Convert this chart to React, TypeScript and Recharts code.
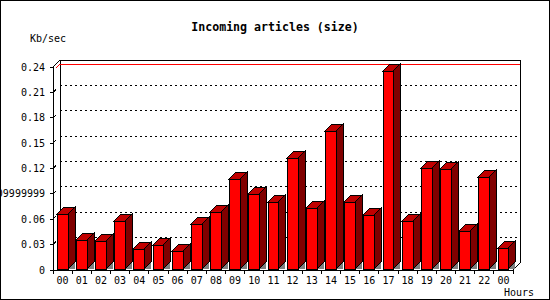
import React from "react";
import { BarChart, Bar, XAxis, YAxis, ReferenceLine, ReferenceArea } from "recharts";

const hours = ["00","01","02","03","04","05","06","07","08","09","10","11","12","13","14","15","16","17","18","19","20","21","22","00"];
const kbPerSec = [0.066, 0.035, 0.034, 0.058, 0.0245, 0.030, 0.022, 0.054, 0.069, 0.108, 0.090, 0.080, 0.132, 0.073, 0.164, 0.080, 0.065, 0.235, 0.058, 0.121, 0.119, 0.046, 0.110, 0.026];
const yTicks = [0, 0.03, 0.06, 0.09, 0.12, 0.15, 0.18, 0.21, 0.24];
const yTickLabels = ["0", "0.03", "0.06", "0.09999999", "0.12", "0.15", "0.18", "0.21", "0.24"];
const gridTicks = [0.03, 0.06, 0.09, 0.12, 0.15, 0.18, 0.21];
const title = "Incoming articles (size)";
const yUnit = "Kb/sec";
const xUnit = "Hours";

const data = hours.map((h, i) => ({ idx: i, hour: h, value: kbPerSec[i] }));
const maxValue = Math.max(...kbPerSec);

const D = 7;
const FONT = '"DejaVu Sans Mono", "Liberation Mono", monospace';

function Bar3D(props: any) {
  const { x, y, width, height } = props;
  const fx = Math.round(x + width * 0.2);
  const fr = Math.round(x + width * 0.2 + width * 0.57);
  const top = Math.round(y);
  const bot = Math.round(y + height) - 1;
  return (
    <g>
      <polygon points={`${fr},${bot} ${fr + D},${bot - D} ${fr + D},${bot}`} fill="#808080" stroke="none" />
      <polygon points={`${fr},${top} ${fr + D},${top - D} ${fr + D},${bot - D} ${fr},${bot}`} fill="#800000" stroke="#000" strokeWidth={1} />
      <polygon points={`${fx},${top} ${fx + D},${top - D} ${fr + D},${top - D} ${fr},${top}`} fill="#c00000" stroke="#000" strokeWidth={1} />
      <rect x={fx} y={top} width={fr - fx} height={bot - top} fill="#ff0000" stroke="#000" strokeWidth={1} />
    </g>
  );
}

function Frame(props: any) {
  const { x, y, width, height } = props;
  const r = x + width;
  const b = y + height;
  return (
    <g fill="none" stroke="#000" strokeWidth={1}>
      <line x1={x + D} y1={y - D} x2={r + D} y2={y - D} />
      <line x1={x + D} y1={y - D} x2={x + D} y2={b - D} />
      <line x1={r + D} y1={y - D} x2={r + D} y2={b - D} />
      <line x1={x} y1={y} x2={x + D} y2={y - D} />
      <line x1={r} y1={b} x2={r + D} y2={b - D} />
    </g>
  );
}

function GridLine(props: any) {
  const { x1, y1, x2, y2 } = props;
  return (
    <g fill="none" stroke="#000" strokeWidth={1}>
      <line x1={x1 + D} y1={y1 - D} x2={x2 + D} y2={y2 - D} strokeDasharray="2 3" />
      <line x1={x1} y1={y1} x2={x1 + 3} y2={y1 - 3} />
    </g>
  );
}

function MaxLine(props: any) {
  const { x1, y1, x2, y2 } = props;
  return (
    <g fill="none" stroke="#ff0000" strokeWidth={1}>
      <line x1={x1 + D} y1={y1 - D} x2={x2 + D} y2={y2 - D} />
      <line x1={x1 + 3} y1={y1 - 3} x2={x1 + D} y2={y1 - D} />
    </g>
  );
}

function XTick(props: any) {
  const { x, y, payload, index, visibleTicksCount, width } = props;
  const half = payload && payload.offset ? payload.offset : width / (visibleTicksCount || 24) / 2;
  const cx = payload && typeof payload.coordinate === "number" ? payload.coordinate : x;
  const left = cx - half;
  const right = cx + half;
  const isLast = index === (visibleTicksCount || hours.length) - 1;
  return (
    <g>
      <line x1={left} y1={y} x2={left} y2={y + 4} stroke="#000" />
      {isLast ? <line x1={right} y1={y} x2={right} y2={y + 4} stroke="#000" /> : null}
      <text x={cx} y={y + 14} textAnchor="middle" fontFamily={FONT} fontSize={10} fill="#000">
        {hours[payload.index ?? index] ?? payload.value}
      </text>
    </g>
  );
}

function XUnitLabel(props: any) {
  const vb = props.viewBox || { x: 53, y: 270, width: 460, height: 30 };
  return (
    <text x={vb.x + vb.width + 21} y={vb.y + 26} textAnchor="end" fontFamily={FONT} fontSize={10} fill="#000">
      {xUnit}
    </text>
  );
}

function YUnitLabel(props: any) {
  const vb = props.viewBox || { x: 0, y: 67, width: 53, height: 203 };
  return (
    <g>
      <text x={30} y={vb.y - 25} textAnchor="start" fontFamily={FONT} fontSize={10} fill="#000">
        {yUnit}
      </text>
      <text x={275} y={vb.y - 36} textAnchor="middle" fontFamily={FONT} fontSize={11.6} fontWeight="bold" fill="#000">
        {title}
      </text>
    </g>
  );
}

export default function App() {
  return (
    <div style={{ position: "absolute", left: 0, top: 0, width: 550, height: 300, background: "#fff" }}>
      <BarChart
        width={550}
        height={300}
        data={data}
        margin={{ top: 67, right: 37, bottom: 0, left: 0 }}
        barCategoryGap={0}
        barGap={0}
        style={{ shapeRendering: "crispEdges" }}
      >
        <ReferenceArea y1={0} y2={0.24} ifOverflow="visible" shape={Frame} zIndex={-10} />
        {gridTicks.map((t) => (
          <ReferenceLine key={t} y={t} ifOverflow="visible" shape={GridLine} zIndex={-10} />
        ))}
        <ReferenceLine y={maxValue} ifOverflow="visible" shape={MaxLine} zIndex={-10} />
        <XAxis
          dataKey="idx"
          type="category"
          height={30}
          interval={0}
          tickSize={0}
          tickMargin={0}
          tickLine={false}
          axisLine={{ stroke: "#000" }}
          tick={<XTick />}
          label={<XUnitLabel />}
        />
        <YAxis
          width={53}
          domain={[0, 0.24]}
          ticks={yTicks}
          interval={0}
          tickSize={3}
          tickMargin={5}
          tickLine={{ stroke: "#000" }}
          axisLine={{ stroke: "#000" }}
          tick={{ fill: "#000", fontSize: 10, fontFamily: FONT }}
          tickFormatter={(v: number) => yTickLabels[yTicks.indexOf(v)] ?? String(v)}
          label={<YUnitLabel />}
        />
        <Bar dataKey="value" isAnimationActive={false} shape={Bar3D} />
      </BarChart>
      <div
        style={{
          position: "absolute",
          left: 0,
          top: 0,
          width: 550,
          height: 300,
          border: "1px solid #000",
          boxSizing: "border-box",
          pointerEvents: "none",
        }}
      />
    </div>
  );
}
